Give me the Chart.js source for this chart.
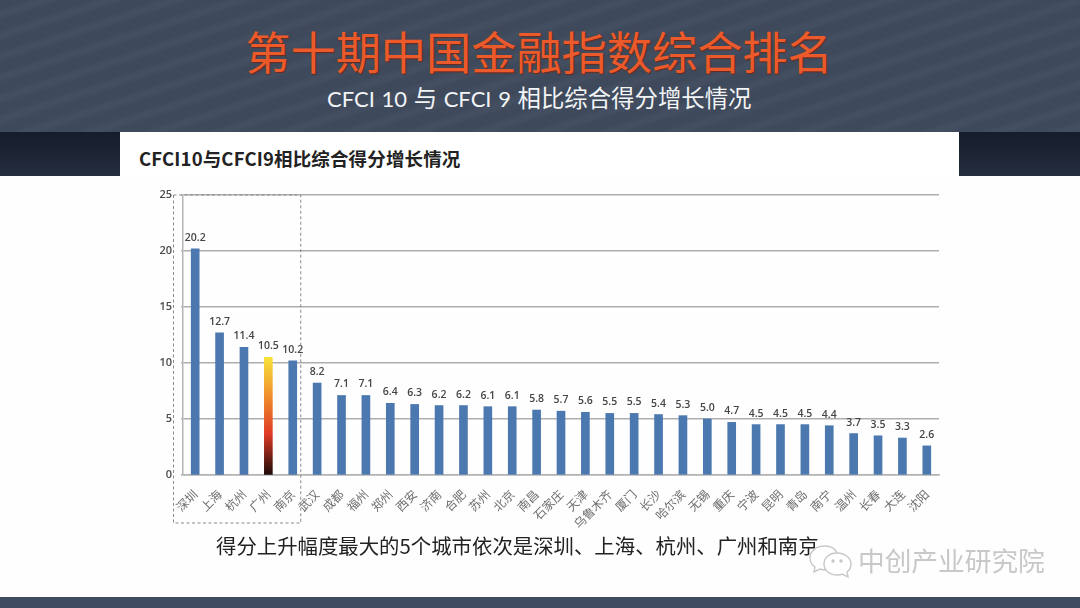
<!DOCTYPE html>
<html lang="zh">
<head>
<meta charset="utf-8">
<title>CFCI10与CFCI9相比综合得分增长情况</title>
<script src="https://cdn.jsdelivr.net/npm/chart.js@4"></script>
<style>
    html, body { margin: 0; padding: 0; background: #fff; }
    #page { position: relative; width: 1080px; height: 608px; overflow: hidden; background: #fefefe; font-family: "Noto Sans CJK SC", sans-serif; }
    #header { position: absolute; left: 0; top: 0; width: 1080px; height: 132px;
        background: repeating-linear-gradient( 162deg, #3e495b 0, #3e495b 8px, #434e61 12px, #434e61 16px, #3e495b 20px ); }
    #band { position: absolute; left: 0; top: 132px; width: 1080px; height: 44px; background: linear-gradient( #151c2a, #252e3f ); }
    #panel { position: absolute; left: 120px; top: 132px; width: 839px; height: 44px; background: #fff; }
    #footer { position: absolute; left: 0; top: 597px; width: 1080px; height: 11px; background: #3f4b5e; }
    .txt { position: absolute; white-space: nowrap; line-height: 1; }
    #mainTitle { left: 0; width: 1078px; text-align: center; top: 28px; font-size: 45.2px; color: #ec5a2c; text-shadow: 1px 1px 1px #6b2a1c; }
    #subTitle { left: 327px; top: 86px; font-size: 23.4px; color: #f2f4f6; }
    #subTitle .latin { font-family: Lato, sans-serif; font-size: 22px; word-spacing: 1px; }
    #chartTitle { left: 139px; top: 149px; font-size: 18.5px; font-weight: 700; color: #222; letter-spacing: 0.15px; }
    #caption { left: 216px; top: 535px; font-size: 20.4px; color: #222; }
    #mark { left: 858px; top: 547px; font-size: 26.7px; color: #c8c8c8; }
    #wechat { position: absolute; left: 808px; top: 543px; }
    #chart { position: absolute; left: 0; top: 0; filter: blur( 0.45px ); }
</style>
</head>
<body>
<div id="page">
    <div id="header"></div>
    <div id="band"></div>
    <div id="panel"></div>
    <div id="footer"></div>
    <div class="txt" id="mainTitle">第十期中国金融指数综合排名</div>
    <div class="txt" id="subTitle"><span class="latin">CFCI 10 </span>与<span class="latin"> CFCI 9 </span>相比综合得分增长情况</div>
    <div class="txt" id="chartTitle">CFCI10与CFCI9相比综合得分增长情况</div>
    <canvas id="chart" width="1080" height="608"></canvas>
    <div class="txt" id="caption">得分上升幅度最大的5个城市依次是深圳、上海、杭州、广州和南京</div>
    <svg id="wechat" width="46" height="36" viewBox="0 0 46 36" fill="#fff" stroke="#c8c8c8" stroke-width="1.4">
        <path d="M17 3 C8 3 2 8 2 15 C2 19 4 22 7 24 L6 29 L12 26 C14 27 16 27 18 27 C24 27 30 22 30 15 C30 8 25 3 17 3 Z"/>
        <path d="M29 10 C21 10 16 15 16 21 C16 27 21 32 29 32 C31 32 33 32 34 31 L40 34 L39 29 C42 27 43 24 43 21 C43 15 37 10 29 10 Z"/>
        <circle cx="25" cy="18" r="1" fill="#bbb"/>
        <circle cx="33" cy="18" r="1" fill="#bbb"/>
    </svg>
    <div class="txt" id="mark">中创产业研究院</div>
</div>

<script>
const cities = [ "深圳", "上海", "杭州", "广州", "南京", "武汉", "成都", "福州", "郑州", "西安", "济南", "合肥", "苏州", "北京", "南昌", "石家庄", "天津", "乌鲁木齐", "厦门", "长沙", "哈尔滨", "无锡", "重庆", "宁波", "昆明", "青岛", "南宁", "温州", "长春", "大连", "沈阳" ];
const scoreGrowth = [ 20.2, 12.7, 11.4, 10.5, 10.2, 8.2, 7.1, 7.1, 6.4, 6.3, 6.2, 6.2, 6.1, 6.1, 5.8, 5.7, 5.6, 5.5, 5.5, 5.4, 5.3, 5.0, 4.7, 4.5, 4.5, 4.5, 4.4, 3.7, 3.5, 3.3, 2.6 ];
const yTicks = [ 0, 5, 10, 15, 20, 25 ];

const barBlue = "#4b78ae";
const highlightCity = "广州";
const boxedCities = 5;

// the highlighted city gets a yellow to black fill, the rest stay blue
function barColor( context ) {

    if ( cities[context.dataIndex] !== highlightCity || !context.chart.chartArea ) {
        return barBlue;
    }

    const yScale = context.chart.scales.y;
    const gradient = context.chart.ctx.createLinearGradient( 0, yScale.getPixelForValue( scoreGrowth[context.dataIndex] ), 0, yScale.getPixelForValue( 0 ) );
    gradient.addColorStop( 0, "#f8e23c" );
    gradient.addColorStop( 0.3, "#f0962c" );
    gradient.addColorStop( 0.65, "#df3a26" );
    gradient.addColorStop( 1, "#1c0a08" );
    return gradient;

}

// value above each bar
const valueLabels = {
    id: "valueLabels",
    afterDatasetsDraw( chart ) {
        const ctx = chart.ctx;
        ctx.save();
        ctx.font = "600 10.5px 'Open Sans', 'Liberation Sans', sans-serif";
        ctx.fillStyle = "#444";
        ctx.textAlign = "center";
        ctx.textBaseline = "middle";
        chart.getDatasetMeta( 0 ).data.forEach( function ( bar, i ) {
            ctx.fillText( scoreGrowth[i].toFixed( 1 ), bar.x, bar.y - 11 );
        } );
        ctx.restore();
    }
};

// dashed box around the top five cities, it runs down past the tick labels
const topFiveBox = {
    id: "topFiveBox",
    afterDraw( chart ) {
        const xScale = chart.scales.x;
        const yScale = chart.scales.y;
        const left = xScale.left - 9.5;
        const right = xScale.getPixelForValue( boxedCities - 1 ) + 8;
        const ctx = chart.ctx;
        ctx.save();
        ctx.strokeStyle = "#8a8a8a";
        ctx.lineWidth = 1;
        ctx.setLineDash( [ 3, 2.5 ] );
        ctx.strokeRect( left, yScale.top, right - left, yScale.bottom - yScale.top + 48 );
        ctx.restore();
    }
};

new Chart( document.getElementById( "chart" ), {
    type: "bar",
    data: {
        labels: cities,
        datasets: [{
            data: scoreGrowth,
            backgroundColor: barColor,
            borderWidth: 0,
            barThickness: 8
        }]
    },
    options: {
        responsive: false,
        animation: false,
        layout: { padding: { left: 0, top: 195, right: 141, bottom: 0 } },
        plugins: {
            legend: { display: false },
            tooltip: { enabled: false }
        },
        scales: {
            x: {
                afterFit: function ( scale ) { scale.height = 133; },
                grid: { display: false },
                border: { color: "#b4b4b4", width: 1.5 },
                ticks: {
                    autoSkip: false,
                    maxRotation: 45,
                    minRotation: 45,
                    padding: 4,
                    color: "#6e6e6e",
                    font: { size: 12, family: "'Noto Sans CJK SC', sans-serif" }
                }
            },
            y: {
                min: 0,
                max: 25,
                afterFit: function ( scale ) { scale.width = 183; },
                afterBuildTicks: function ( scale ) {
                    scale.ticks = yTicks.map( function ( v ) { return { value: v }; } );
                },
                grid: { color: "#aeaeae", lineWidth: 1.4, tickLength: 2, tickColor: "#b0b0b0" },
                border: { color: "#b4b4b4", width: 1.5 },
                ticks: {
                    padding: 9,
                    color: "#4a4a4a",
                    font: { size: 11, weight: "600", family: "'Open Sans', 'Liberation Sans', sans-serif" }
                }
            }
        }
    },
    plugins: [ valueLabels, topFiveBox ]
} );
</script>
</body>
</html>
